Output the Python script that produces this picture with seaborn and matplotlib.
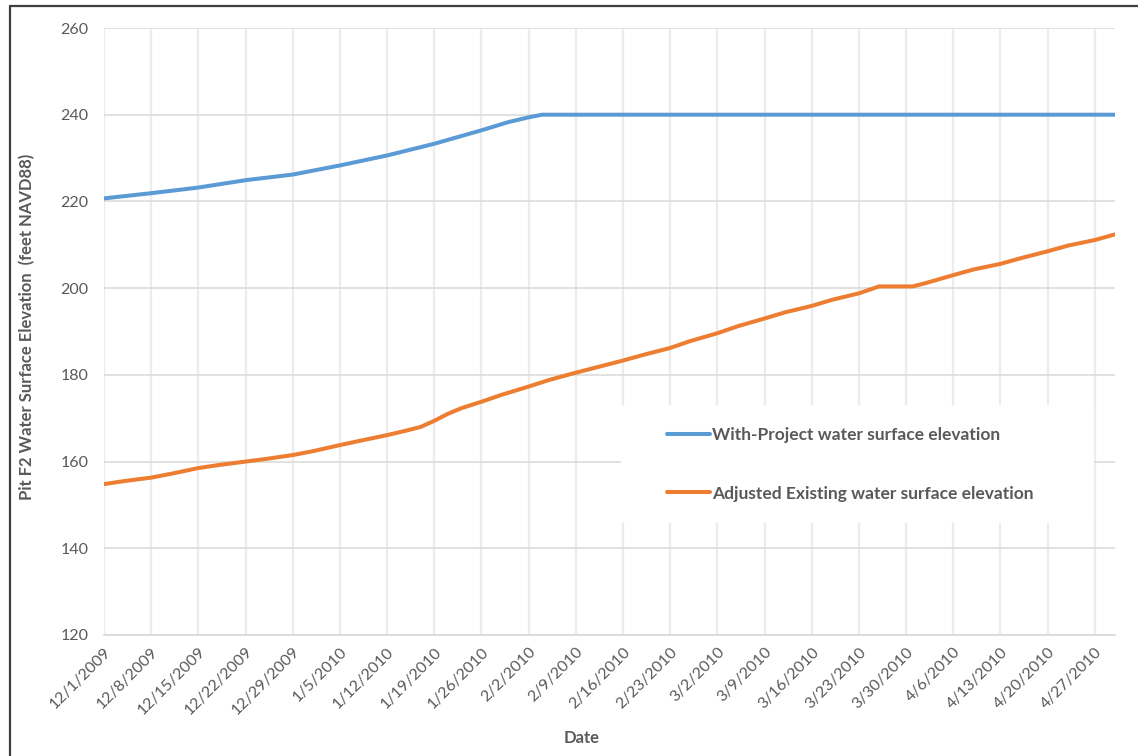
import matplotlib
matplotlib.use("Agg")
import matplotlib.pyplot as plt
from matplotlib.lines import Line2D
from matplotlib.patches import Rectangle
import seaborn as sns
import pandas as pd

# ---- data ----
with_project_dates = ["2009-12-01", "2009-12-08", "2009-12-15", "2009-12-22", "2009-12-29",
                      "2010-01-05", "2010-01-12", "2010-01-19", "2010-01-26", "2010-01-30",
                      "2010-02-02", "2010-02-04", "2010-04-30"]
with_project_elev = [220.7, 221.9, 223.2, 224.9, 226.2,
                     228.3, 230.6, 233.3, 236.4, 238.3,
                     239.4, 240.0, 240.0]

existing_dates = ["2009-12-01", "2009-12-04", "2009-12-08", "2009-12-11", "2009-12-15", "2009-12-18",
                  "2009-12-22", "2009-12-25", "2009-12-29", "2010-01-01", "2010-01-05", "2010-01-08",
                  "2010-01-12", "2010-01-15", "2010-01-17", "2010-01-19", "2010-01-21", "2010-01-23",
                  "2010-01-26", "2010-01-29", "2010-02-02", "2010-02-05", "2010-02-09", "2010-02-12",
                  "2010-02-16", "2010-02-19", "2010-02-23", "2010-02-26", "2010-03-02", "2010-03-05",
                  "2010-03-09", "2010-03-12", "2010-03-16", "2010-03-19", "2010-03-23", "2010-03-26",
                  "2010-03-31", "2010-04-02", "2010-04-06", "2010-04-09", "2010-04-13", "2010-04-16",
                  "2010-04-20", "2010-04-23", "2010-04-27", "2010-04-30"]
existing_elev = [154.8, 155.5, 156.3, 157.2, 158.5, 159.2,
                 160.0, 160.6, 161.5, 162.4, 163.8, 164.8,
                 166.1, 167.2, 168.0, 169.4, 171.0, 172.3,
                 173.8, 175.4, 177.3, 178.8, 180.5, 181.7,
                 183.3, 184.6, 186.2, 187.8, 189.6, 191.2,
                 193.0, 194.4, 195.9, 197.3, 198.8, 200.4,
                 200.4, 201.2, 203.0, 204.3, 205.6, 206.9,
                 208.5, 209.8, 211.1, 212.4]

series_labels = ["With-Project water surface elevation",
                 "Adjusted Existing water surface elevation"]
y_ticks = [120, 140, 160, 180, 200, 220, 240, 260]
x_start, x_end = "2009-12-01", "2010-04-30"

df_wp = pd.DataFrame({"date": pd.to_datetime(with_project_dates), "elev": with_project_elev})
df_ex = pd.DataFrame({"date": pd.to_datetime(existing_dates), "elev": existing_elev})

# ---- styling ----
sns.set_theme(style="white")
plt.rcParams["font.family"] = ["Lato", "DejaVu Sans"]
text_gray = "#595959"
blue = "#5B9BD5"
orange = "#ED7D31"

fig = plt.figure(figsize=(11.38, 7.56), dpi=100)
W, H = 1138, 756
ax = fig.add_axes([104 / W, 1 - 635 / H, (1115 - 104) / W, (635 - 28) / H])

sns.lineplot(data=df_wp, x="date", y="elev", ax=ax, color=blue, lw=2.9,
             label=series_labels[0], zorder=3)
sns.lineplot(data=df_ex, x="date", y="elev", ax=ax, color=orange, lw=2.9,
             label=series_labels[1], zorder=3)

ax.set_xlim(pd.Timestamp(x_start), pd.Timestamp(x_end))
ax.set_ylim(y_ticks[0], y_ticks[-1])
ax.set_yticks(y_ticks)
ticks = pd.date_range(x_start, x_end, freq="7D")
ax.set_xticks(ticks)
ax.set_xticklabels([f"{d.month}/{d.day}/{d.year}" for d in ticks])

for s in ["top", "right", "left"]:
    ax.spines[s].set_visible(False)
ax.spines["bottom"].set_color("#d9d9d9")
ax.spines["bottom"].set_linewidth(1.2)

ax.grid(True, axis="y", color="#d9d9d9", lw=1.1)
ax.grid(True, axis="x", color="#ececec", lw=1.6)
ax.set_axisbelow(True)

ax.tick_params(axis="both", length=0, colors=text_gray, labelsize=11.5)
ax.tick_params(axis="y", pad=11)
for lab in ax.get_xticklabels():
    lab.set_rotation(45)
    lab.set_ha("right")
    lab.set_va("top")
    lab.set_rotation_mode("anchor")
ax.tick_params(axis="x", pad=7)

ax.set_xlabel("Date", fontsize=12, fontweight="bold", color=text_gray)
ax.set_ylabel("Pit F2 Water Surface Elevation  (feet NAVD88)", fontsize=12,
              fontweight="bold", color=text_gray)
ax.xaxis.set_label_coords((582 - 104) / (1115 - 104), -(730 - 635) / (635 - 28))
ax.yaxis.set_label_coords(-(104 - 35) / (1115 - 104), (635 - 327) / (635 - 28))

# legend background box
ax.add_patch(Rectangle((621 / W, 1 - 523 / H), (1094 - 621) / W, (523 - 405) / H,
                       transform=fig.transFigure, facecolor="white", edgecolor="none",
                       zorder=1, clip_on=False))
leg = ax.legend(loc="upper left", bbox_to_anchor=(667 / W, 1 - 427 / H),
                bbox_transform=fig.transFigure, frameon=False, borderpad=0,
                borderaxespad=0, handlelength=2.45, handletextpad=0.15, labelspacing=2.45,
                prop={"family": ["Lato", "DejaVu Sans"], "weight": "bold", "size": 12.5})
for t in leg.get_texts():
    t.set_color(text_gray)

# outer border (top and left edges visible in reference)
fig.add_artist(Line2D([9.5 / W, 1.0], [1 - 5.5 / H, 1 - 5.5 / H], transform=fig.transFigure,
                      color="#404040", lw=1.6))
fig.add_artist(Line2D([9.5 / W, 9.5 / W], [0, 1 - 5.5 / H], transform=fig.transFigure,
                      color="#404040", lw=1.6))

fig.savefig("out.png", dpi=100)
